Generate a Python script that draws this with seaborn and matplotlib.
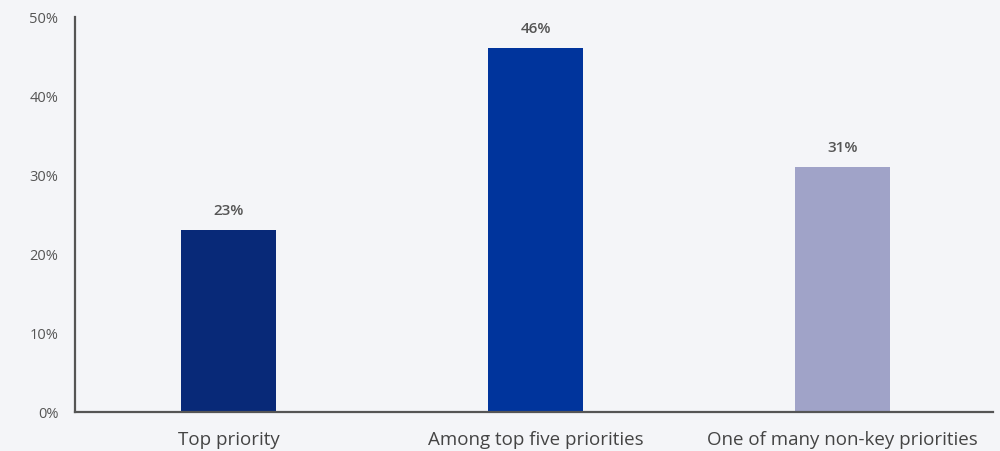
import matplotlib
matplotlib.use("Agg")
import matplotlib.pyplot as plt
import seaborn as sns
import pandas as pd

categories = ["Top priority", "Among top five priorities", "One of many non-key priorities"]
values = [23, 46, 31]
colors = ["#082978", "#00349c", "#a0a3c8"]
yticks = [0, 10, 20, 30, 40, 50]
ytick_labels = ["0%", "10%", "20%", "30%", "40%", "50%"]

sns.set_theme(style="white")
plt.rcParams["font.family"] = ["Open Sans", "DejaVu Sans"]

bg = "#f4f5f8"
fig = plt.figure(figsize=(10, 4.52), dpi=100, facecolor=bg)
ax = fig.add_axes([0.075, 0.0865, 0.918, 0.874])
ax.set_facecolor(bg)

df = pd.DataFrame({"cat": categories, "val": values})
sns.barplot(data=df, x="cat", y="val", hue="cat", palette=colors, legend=False,
            width=0.31, ax=ax, saturation=1, linewidth=0, edgecolor="none")

for i, v in enumerate(values):
    ax.text(i, v + 1.7, f"{v}%", ha="center", va="bottom", fontsize=11,
            color="#555555", fontweight="semibold")

ax.set_ylim(0, 50)
ax.set_xlim(-0.5, 2.49)
ax.set_yticks(yticks)
ax.set_yticklabels(ytick_labels, fontsize=10.5, color="#555555")
ax.tick_params(axis="y", length=0, pad=12)
ax.tick_params(axis="x", length=0, pad=13, labelsize=13.5, labelcolor="#444444")
ax.set_xlabel("")
ax.set_ylabel("")
for s in ["top", "right"]:
    ax.spines[s].set_visible(False)
for s in ["left", "bottom"]:
    ax.spines[s].set_color("#555555")
    ax.spines[s].set_linewidth(1.6)

fig.savefig("out.png", dpi=100, facecolor=bg)
